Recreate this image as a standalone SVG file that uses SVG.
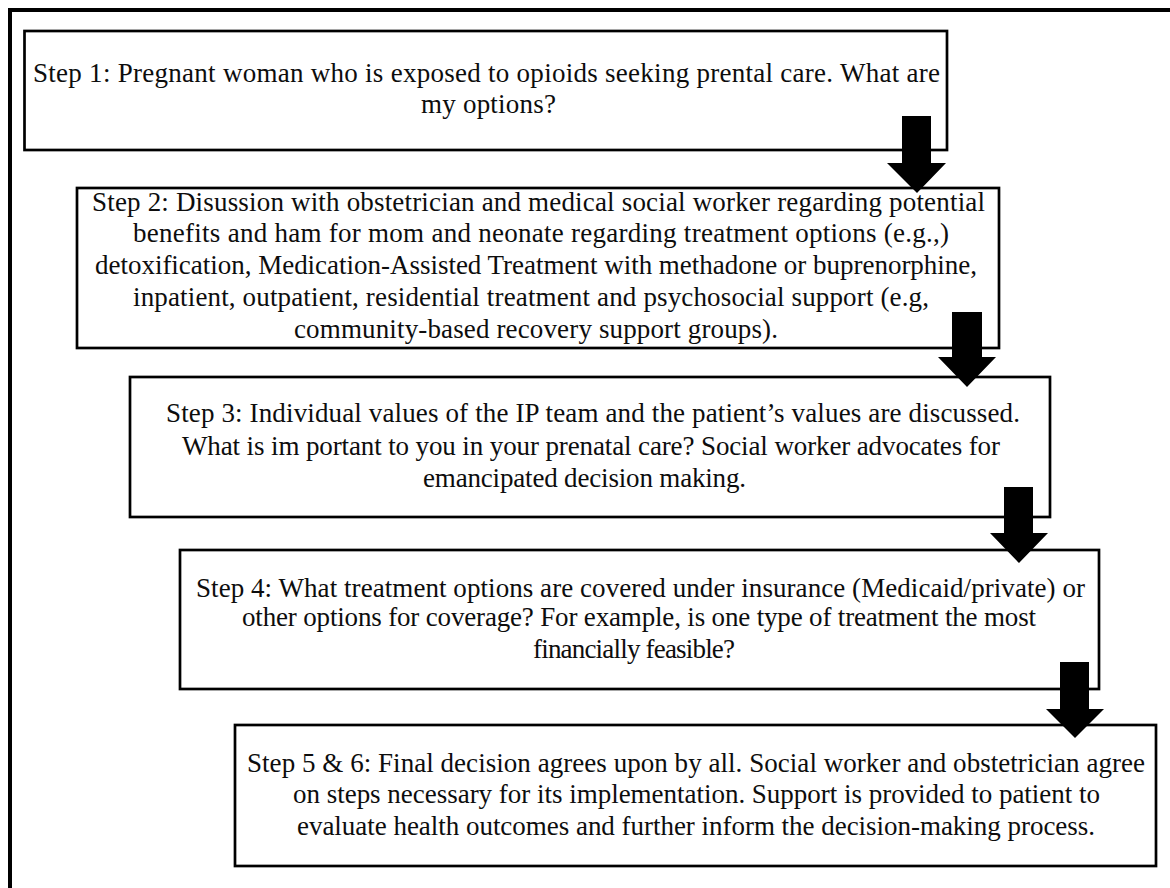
<svg xmlns="http://www.w3.org/2000/svg" width="1170" height="888" viewBox="0 0 1170 888">
<style>
.frame{fill:none;stroke:#000;stroke-width:4}
.box{fill:#fff;stroke:#000;stroke-width:2.7}
.arrow{fill:#000;stroke:none}
</style>
<rect x="0" y="0" width="1170" height="888" fill="#fff"/>
<rect class="frame" x="10" y="10" width="1200" height="920"/>
<g font-family="'Liberation Serif', serif" font-size="27" fill="#0d0d0d" text-anchor="middle">
<g id="step1">
<rect class="box" x="24.5" y="31" width="922.5" height="119"/>
<text x="486.5" y="82" textLength="907" lengthAdjust="spacing">Step 1: Pregnant woman who is exposed to opioids seeking prental care. What are</text>
<text x="488.5" y="113" textLength="135" lengthAdjust="spacing">my options?</text>
</g>
<g id="step2">
<rect class="box" x="77" y="188" width="922" height="160"/>
<text x="538.5" y="211" textLength="893" lengthAdjust="spacing">Step 2: Disussion with obstetrician and medical social worker regarding potential</text>
<text x="541" y="242" textLength="816" lengthAdjust="spacing">benefits and ham for mom and neonate regarding treatment options (e.g.,)</text>
<text x="536" y="274" textLength="882" lengthAdjust="spacing">detoxification, Medication-Assisted Treatment with methadone or buprenorphine,</text>
<text x="531" y="306" textLength="796" lengthAdjust="spacing">inpatient, outpatient, residential treatment and psychosocial support (e.g,</text>
<text x="536" y="338" textLength="484" lengthAdjust="spacing">community-based recovery support groups).</text>
</g>
<g id="step3">
<rect class="box" x="130" y="377" width="920" height="140"/>
<text x="593" y="422" textLength="854" lengthAdjust="spacing">Step 3: Individual values of the IP team and the patient’s values are discussed.</text>
<text x="591" y="455" textLength="818" lengthAdjust="spacing">What is im portant to you in your prenatal care? Social worker advocates for</text>
<text x="584.5" y="487" textLength="323" lengthAdjust="spacing">emancipated decision making.</text>
</g>
<g id="step4">
<rect class="box" x="180" y="550" width="919" height="139"/>
<text x="640.5" y="597" textLength="889" lengthAdjust="spacing">Step 4: What treatment options are covered under insurance (Medicaid/private) or</text>
<text x="639" y="626" textLength="794" lengthAdjust="spacing">other options for coverage? For example, is one type of treatment the most</text>
<text x="634" y="658" textLength="202" lengthAdjust="spacing">financially feasible?</text>
</g>
<g id="step5">
<rect class="box" x="235" y="725" width="921" height="141"/>
<text x="696" y="772" textLength="898" lengthAdjust="spacing">Step 5 &amp; 6: Final decision agrees upon by all. Social worker and obstetrician agree</text>
<text x="696.5" y="803" textLength="807" lengthAdjust="spacing">on steps necessary for its implementation. Support is provided to patient to</text>
<text x="696" y="835" textLength="798" lengthAdjust="spacing">evaluate health outcomes and further inform the decision-making process.</text>
</g>
</g>
<g id="connectors">
<polygon class="arrow" points="902,116 931,116 931,163 946,163 917,193 887,163 902,163"/>
<polygon class="arrow" points="952,312 982,312 982,357 996,357 967,387 938,357 952,357"/>
<polygon class="arrow" points="1004,487 1033,487 1033,533 1048,533 1019,563 990,533 1004,533"/>
<polygon class="arrow" points="1060,662 1089,662 1089,709 1104,709 1075,738 1046,709 1060,709"/>
</g>
</svg>
